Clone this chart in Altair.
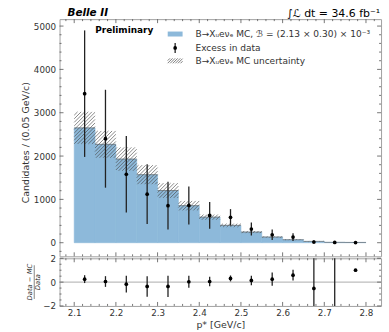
import math
import altair as alt
import pandas as pd

# ---------------- data ----------------
centers = [2.125, 2.175, 2.225, 2.275, 2.325, 2.375, 2.425, 2.475, 2.525, 2.575, 2.625, 2.675, 2.725, 2.775]
mc = [2650, 2270, 1930, 1570, 1205, 855, 590, 400, 246, 131, 69, 30, 8, 6]
mc_unc = [370, 310, 270, 220, 170, 110, 60, 40, 25, 15, 10, 5, 3, 2]
data = [3440, 2400, 1580, 1120, 855, 860, 630, 585, 315, 184, 130, 16, 7, 3]
data_err = [1460, 1130, 880, 690, 550, 440, 310, 190, 150, 120, 90, 40, 20, 10]
ratio = [0.25, 0.05, -0.17, -0.36, -0.36, 0.03, 0.05, 0.31, 0.14, 0.25, 0.58, -0.53, -6.0, 1.0]
ratio_err = [0.33, 0.45, 0.7, 0.86, 0.9, 0.5, 0.4, 0.25, 0.4, 0.55, 0.45, 4.0, 10.0, 0.0]
bin_width = 0.05

x_major = [2.1, 2.2, 2.3, 2.4, 2.5, 2.6, 2.7, 2.8]
y_major = [0, 1000, 2000, 3000, 4000, 5000]
r_major = [-2, 0, 2]

legend_labels = [
    "B→Xᵤeνₑ MC, ℬ = (2.13 × 0.30) × 10⁻³",
    "Excess in data",
    "B→Xᵤeνₑ MC uncertainty",
]

# ---------------- layout / style ----------------
W, H1, H2 = 324, 239, 48
XMIN, XMAX = 2.0648, 2.8362
Y1MIN, Y1MAX = -314, 5160
BLUE = "#8db9da"
HATCH = "#454545"
TXT = "#333333"
TICK = "#555555"
FONT = "DejaVu Sans"

x_minor = [round(2.08 + 0.02 * i, 2) for i in range(38)]
x_minor = [v for v in x_minor if XMIN < v < XMAX and all(abs(v - m) > 1e-6 for m in x_major)]
y_minor = [v for v in range(-200, 5200, 200) if v % 1000 != 0 and Y1MIN < v < Y1MAX]
r_minor = [-1.5, -1.0, -0.5, 0.5, 1.0, 1.5]

df = pd.DataFrame({"c": centers, "mc": mc, "unc": mc_unc, "d": data, "de": data_err,
                   "r": ratio, "re": ratio_err})
df["lo"] = df["c"] - bin_width / 2
df["hi"] = df["c"] + bin_width / 2
df["zero"] = 0
df["up"] = df["mc"] + df["unc"]
df["dn"] = df["mc"] - df["unc"]
df["dlo"] = df["d"] - df["de"]
df["dhi"] = df["d"] + df["de"]
df["rlo"] = (df["r"] - df["re"]).clip(lower=-2)
df["rhi"] = (df["r"] + df["re"]).clip(upper=2)
df_rpts = df[(df["r"] >= -2) & (df["r"] <= 2)]


def px(v):
    return (v - XMIN) / (XMAX - XMIN) * W


def py(v):
    return (Y1MAX - v) / (Y1MAX - Y1MIN) * H1


def inv_x(p):
    return XMIN + p / W * (XMAX - XMIN)


def inv_y(p):
    return Y1MAX - p / H1 * (Y1MAX - Y1MIN)


def hatch_segments(x0, x1, y0, y1, s=3.6):
    segs = []
    kmin = math.floor((x0 + y0) / s)
    kmax = math.ceil((x1 + y1) / s)
    for k in range(kmin, kmax + 1):
        c = k * s
        xa = max(x0, c - y1)
        xb = min(x1, c - y0)
        if xb - xa > 0.3:
            segs.append((xa, c - xa, xb, c - xb))
    return segs


rows = []
for lo, hi, up, dn in zip(df["lo"], df["hi"], df["up"], df["dn"]):
    for (a, b, c2, d2) in hatch_segments(px(lo), px(hi), py(up), py(dn)):
        rows.append({"x": inv_x(a), "y": inv_y(b), "x2": inv_x(c2), "y2": inv_y(d2)})
hatch_df = pd.DataFrame(rows)

xs = alt.Scale(domain=[XMIN, XMAX], nice=False, zero=False)
ys = alt.Scale(domain=[Y1MIN, Y1MAX], nice=False, zero=False)
rs = alt.Scale(domain=[-2, 2], nice=False, zero=False)

yax = alt.Axis(values=y_major, format="d", labelPadding=4, title="Candidates / (0.05 GeV/c)",
               titleFontSize=9.5, titleFontWeight="normal", titleColor=TXT,
               titleX=-34, titleY=124, titleBaseline="middle", titleAngle=270,
               labelFlush=False)

one = pd.DataFrame({"k": [0]})

# ---------------- main panel ----------------
bars = alt.Chart(df).mark_rect(color=BLUE, stroke=BLUE, strokeWidth=0.6).encode(
    x=alt.X("lo:Q", scale=xs, axis=None), x2="hi",
    y=alt.Y("zero:Q", scale=ys, axis=yax), y2="mc")

hatch = alt.Chart(hatch_df).mark_rule(color=HATCH, strokeWidth=0.75, opacity=0.85).encode(
    x=alt.X("x:Q", scale=xs, axis=None), x2="x2",
    y=alt.Y("y:Q", scale=ys, axis=yax), y2="y2")

step = alt.Chart(df).mark_rule(color="#666666", strokeWidth=0.8, opacity=0.8).encode(
    x=alt.X("lo:Q", scale=xs, axis=None), x2="hi",
    y=alt.Y("mc:Q", scale=ys, axis=yax))

errs = alt.Chart(df).mark_rule(color="#222222", strokeWidth=1.3).encode(
    x=alt.X("c:Q", scale=xs, axis=None),
    y=alt.Y("dlo:Q", scale=ys, axis=yax), y2="dhi")

pts = alt.Chart(df).mark_circle(color="black", size=14, opacity=1).encode(
    x=alt.X("c:Q", scale=xs, axis=None),
    y=alt.Y("d:Q", scale=ys, axis=yax))


def xticks(vals, length, h, scale, xax_obj):
    d = pd.DataFrame({"t": vals})
    bot = alt.Chart(d).mark_rule(color=TICK, strokeWidth=0.8).encode(
        x=alt.X("t:Q", scale=scale, axis=xax_obj), y=alt.value(h), y2=alt.value(h - length))
    top = alt.Chart(d).mark_rule(color=TICK, strokeWidth=0.8).encode(
        x=alt.X("t:Q", scale=scale, axis=xax_obj), y=alt.value(0), y2=alt.value(length))
    return [bot, top]


def yticks(vals, length, scale, yax_obj):
    d = pd.DataFrame({"t": vals})
    left = alt.Chart(d).mark_rule(color=TICK, strokeWidth=0.8).encode(
        y=alt.Y("t:Q", scale=scale, axis=yax_obj), x=alt.value(0), x2=alt.value(length))
    right = alt.Chart(d).mark_rule(color=TICK, strokeWidth=0.8).encode(
        y=alt.Y("t:Q", scale=scale, axis=yax_obj), x=alt.value(W - length), x2=alt.value(W))
    return [left, right]


main_ticks = (xticks(x_major, 4, H1, xs, None) + xticks(x_minor, 2, H1, xs, None)
              + yticks(y_major, 4, ys, yax) + yticks(y_minor, 2, ys, yax))


def label(text, x, y, size, weight="normal", style="normal", align="left", angle=0, color="black"):
    return alt.Chart(one).mark_text(
        text=text, fontSize=size, fontWeight=weight, fontStyle=style, align=align,
        baseline="middle", angle=angle, color=color, font=FONT).encode(
        x=alt.value(x), y=alt.value(y))


def seg(x0, y0, x1, y1, color, width):
    return alt.Chart(one).mark_rule(color=color, strokeWidth=width).encode(
        x=alt.value(x0), y=alt.value(y0), x2=alt.value(x1), y2=alt.value(y1))


texts = [
    label("Belle II", 8, -6, 10.5, weight="bold", style="italic"),
    label("∫ℒ dt = 34.6 fb⁻¹", W - 1, -5, 11, align="right"),
    label("Preliminary", 36, 11, 9, weight="bold"),
    label(legend_labels[0], 137, 15, 9.1, color=TXT),
    label(legend_labels[1], 137, 29, 9.1, color=TXT),
    label(legend_labels[2], 137, 42, 9.1, color=TXT),
]

leg_patch = alt.Chart(one).mark_rect(color=BLUE).encode(
    x=alt.value(109), x2=alt.value(124), y=alt.value(12.5), y2=alt.value(17.5))
leg_err = seg(116.5, 24, 116.5, 34, "#222222", 1.3)
leg_pt = alt.Chart(one).mark_circle(color="black", size=14, opacity=1).encode(
    x=alt.value(116.5), y=alt.value(29))
leg_hatch = [seg(a, b, c2, d2, HATCH, 0.7)
             for (a, b, c2, d2) in hatch_segments(109, 124, 39.5, 44.5, 2.6)]

main = alt.layer(bars, hatch, step, errs, pts, *main_ticks, *texts,
                 leg_patch, leg_err, leg_pt, *leg_hatch).properties(width=W, height=H1)

# ---------------- ratio panel ----------------
rax = alt.Axis(values=r_major, format="d", labelPadding=4, title=None, labelFlush=False)
xax = alt.Axis(values=x_major, format=".1f", labelPadding=3, title="p* [GeV/c]",
               titleFontSize=9.5, titleFontWeight="normal", titleColor=TXT,
               titlePadding=2, labelFlush=False)

zero_line = alt.Chart(one).mark_rule(color="#bdbdbd", strokeWidth=1.3).encode(
    y=alt.Y("k:Q", scale=rs, axis=rax), x=alt.value(0), x2=alt.value(W))

r_err = alt.Chart(df).mark_rule(color="#222222", strokeWidth=1.3).encode(
    x=alt.X("c:Q", scale=xs, axis=xax),
    y=alt.Y("rlo:Q", scale=rs, axis=rax), y2="rhi")
r_pts = alt.Chart(df_rpts).mark_circle(color="black", size=14, opacity=1).encode(
    x=alt.X("c:Q", scale=xs, axis=xax),
    y=alt.Y("r:Q", scale=rs, axis=rax))

r_ticks = (xticks(x_major, 4, H2, xs, xax) + xticks(x_minor, 2, H2, xs, xax)
           + yticks(r_major, 4, rs, rax) + yticks(r_minor, 2, rs, rax))

frac = [
    label("Data − MC", -30, H2 / 2, 6.8, style="italic", align="center", angle=270, color=TXT),
    label("Data", -21.5, H2 / 2, 6.8, style="italic", align="center", angle=270, color=TXT),
    seg(-25.5, H2 / 2 - 17, -25.5, H2 / 2 + 17, TXT, 0.6),
]

ratio_panel = alt.layer(zero_line, r_err, r_pts, *r_ticks, *frac).properties(width=W, height=H2)

chart = alt.vconcat(main, ratio_panel, spacing=2, bounds="flush").properties(
    padding={"left": 20, "right": 6, "top": 6, "bottom": 3}
).configure(font=FONT).configure_view(
    stroke="#a0a0a0", strokeWidth=1
).configure_axis(
    ticks=False, domain=False, grid=False, labelFontSize=8.8, labelColor=TXT, labelFont=FONT,
    titleFont=FONT
)

chart.save("out.html", embed_options={"renderer": "svg", "actions": False})
